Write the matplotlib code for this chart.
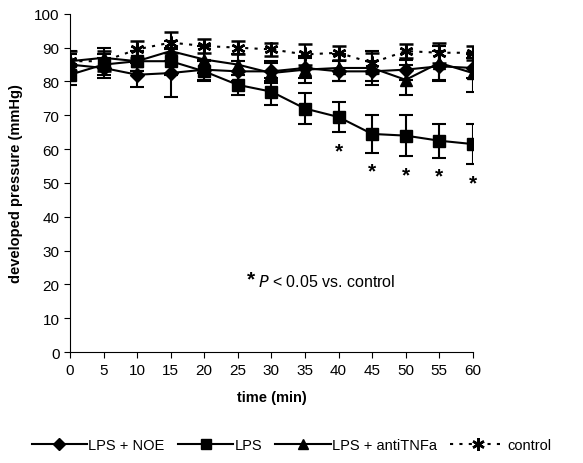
import numpy as np
import matplotlib
matplotlib.use("Agg")
import matplotlib.pyplot as plt
from matplotlib.lines import Line2D

plt.rcParams['font.family'] = ['Liberation Sans', 'DejaVu Sans']

time = [0, 5, 10, 15, 20, 25, 30, 35, 40, 45, 50, 55, 60]

noe = [85, 84, 82, 82.5, 83.5, 83, 83, 84, 83, 83, 83.5, 84.5, 84]
noe_err = [3, 3, 3.5, 7, 3, 3, 3, 3, 3, 3, 3, 4.5, 3]

lps = [82, 85, 86, 86, 83, 79, 77, 72, 69.5, 64.5, 64, 62.5, 61.5]
lps_err = [3, 3, 3, 4, 3, 3, 4, 4.5, 4.5, 5.5, 6, 5, 6]

tnf = [86, 87, 86, 89, 86.5, 85, 82.5, 83.5, 84, 84, 80.5, 85.5, 82.5]
tnf_err = [3, 3, 3, 3, 4, 3, 3, 4, 4, 5, 4.5, 5, 5.5]

ctrl = [86, 86, 89.5, 91.5, 90.5, 90, 89.5, 88, 88.5, 85.5, 89, 88.5, 88.5]
ctrl_err = [3, 3, 2.5, 3, 2, 2, 2, 3, 2, 3, 2, 3, 2]

sig_time = [40, 45, 50, 55, 60]

fig = plt.figure(figsize=(5.83, 4.64), dpi=100)
ax = fig.add_axes([0.120, 0.239, 0.691, 0.729])

ekw = dict(color="black", ecolor="black", elinewidth=1.5, capsize=5, capthick=1.5)

ax.errorbar(time, noe, yerr=noe_err, marker="D", markersize=7, lw=1.5, **ekw)
ax.errorbar(time, lps, yerr=lps_err, marker="s", markersize=9, lw=1.5, **ekw)
ax.errorbar(time, tnf, yerr=tnf_err, marker="^", markersize=9, lw=1.5, **ekw)
ax.errorbar(time, ctrl, yerr=ctrl_err, marker=(6, 2, 0), markersize=10, lw=1.5,
            ls=(0, (1.5, 3)), mew=1.8, **ekw)

# significance marks under LPS
for t in sig_time:
    i = time.index(t)
    ax.text(t, lps[i] - lps_err[i] - 5.5, "*", ha="center", va="center",
            fontsize=15, fontweight="bold")

ax.text(26.3, 21.5, "*", ha="left", va="center", fontsize=15, fontweight="bold")
ax.text(28, 21, "$\\it{P}$ < 0.05 vs. control", ha="left", va="center", fontsize=11.5)

ax.set_xlim(0, 60)
ax.set_ylim(0, 100)
ax.set_xticks(range(0, 61, 5))
ax.set_yticks(range(0, 101, 10))
ax.tick_params(labelsize=11, length=4, direction="out")
ax.spines["top"].set_visible(False)
ax.spines["right"].set_visible(False)
ax.set_xlabel("time (min)", fontweight="bold", fontsize=10.5, labelpad=10)
ax.set_ylabel("developed pressure (mmHg)", fontweight="bold", fontsize=10.5, labelpad=8)

handles = [
    Line2D([], [], color="black", lw=1.5, marker="D", markersize=6),
    Line2D([], [], color="black", lw=1.5, marker="s", markersize=7),
    Line2D([], [], color="black", lw=1.5, marker="^", markersize=7),
    Line2D([], [], color="black", lw=1.5, ls=(0, (1.5, 3)), marker=(6, 2, 0),
           markersize=9, mew=1.8),
]
labels = ["LPS + NOE", "LPS", "LPS + antiTNFa", "control"]
fig.legend(handles, labels, loc="lower center", bbox_to_anchor=(0.5, -0.005),
           ncol=4, frameon=False, fontsize=10.5, handlelength=3.8, handletextpad=0.1,
           columnspacing=0.9)

fig.savefig("out.png", dpi=100)
